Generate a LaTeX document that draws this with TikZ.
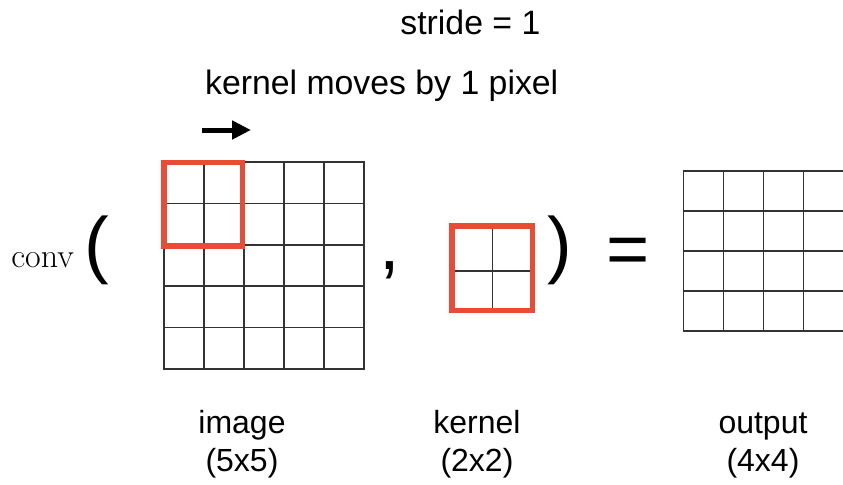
\documentclass[tikz,border=0pt]{standalone}
\usepackage{fontspec}
\usetikzlibrary{arrows.meta}
\newfontfamily\helv{Liberation Sans}
\definecolor{kernelred}{HTML}{E94B35}
\definecolor{gridgray}{HTML}{333333}

\begin{document}
\begin{tikzpicture}[x=0.5pt, y=-0.5pt,
    celllines/.style={gridgray, line width=0.8pt, line cap=rect},
    kernelbox/.style={kernelred, line width=2.6pt},
    toptext/.style={font={\helv\fontsize{16.9}{20}\selectfont}, inner sep=0pt, anchor=base},
    bottomtext/.style={font={\helv\fontsize{16}{19}\selectfont}, inner sep=0pt, anchor=base, align=center},
    bigsym/.style={font={\helv\fontsize{37}{40}\selectfont}, inner sep=0pt}]
      \useasboundingbox (0,0) rectangle (843,484);

      % Titulo
      \node[toptext] (stride) at (470.4,34.5) {stride = 1};
      \node[toptext] (moves) at (381.7,94) {kernel moves by 1 pixel};
      \coordinate (arrowstart) at (202,130);
      \coordinate (arrowend) at (251,130);
      \draw[line width=2.5pt, -{Triangle[length=9.5pt, width=9pt]}] (arrowstart) -- (arrowend);

      % Imagen 5x5
      \foreach \i in {0,...,5} {
        \draw[celllines] (164+40*\i,162) -- (164+40*\i,369);
        \draw[celllines] (164,162+41.4*\i) -- (364,162+41.4*\i);
      }
      \draw[kernelbox] (164,162.5) rectangle (242.5,246);

      % Kernel 2x2
      \draw[celllines] (492.3,226) -- (492.3,310.5);
      \draw[celllines] (452,270.7) -- (532.5,270.7);
      \draw[kernelbox] (452,226) rectangle (532.5,310.5);

      % Salida 4x4
      \foreach \i in {0,...,4} {
        \draw[celllines] (683.3+40*\i,170.7) -- (683.3+40*\i,330.7);
        \draw[celllines] (683.3,170.7+40*\i) -- (843.3,170.7+40*\i);
      }

      % Simbolos
      \node[font=\fontsize{17}{20}\selectfont, inner sep=0pt, anchor=base west] (conv) at (11,267) {conv};
      \node[bigsym] (lparen) at (97,250) {(};
      \node[bigsym, anchor=base] (comma) at (389.5,269.5) {,};
      \node[bigsym] (rparen) at (559.5,250) {)};
      \node[bigsym] (equals) at (628.5,256) {=};

      % Etiquetas
      \node[bottomtext] (imagelabel) at (242,471.2) {image\\(5x5)};
      \node[bottomtext] (kernellabel) at (477,471.2) {kernel\\(2x2)};
      \node[bottomtext] (outputlabel) at (763,471.2) {output\\(4x4)};
    \end{tikzpicture}
\end{document}
